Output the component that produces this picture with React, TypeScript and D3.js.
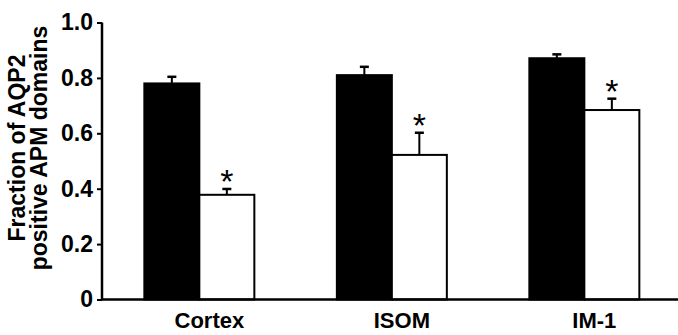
import React, { useEffect, useRef } from 'react';
import * as d3 from 'd3';

const categories = ['Cortex', 'ISOM', 'IM-1'];
const series = ['control', 'treated'];
const controlMeans = [0.78, 0.81, 0.871];
const controlErrors = [0.024, 0.03, 0.014];
const treatedMeans = [0.378, 0.522, 0.684];
const treatedErrors = [0.021, 0.08, 0.041];
const significant = [true, true, true];
const yTicks = [0, 0.2, 0.4, 0.6, 0.8, 1.0];
const yTickLabels = ['0', '0.2', '0.4', '0.6', '0.8', '1.0'];
const titleLines = ['Fraction of AQP2', 'positive APM domains'];

const FONT = '"Liberation Sans", Arial, sans-serif';

function App() {
  const ref = useRef<SVGSVGElement | null>(null);

  useEffect(() => {
    const width = 678;
    const height = 335;
    const svg = d3.select(ref.current);
    svg.selectAll('*').remove();

    const y = d3.scaleLinear().domain([0, 1]).range([299.5, 22.5]);
    const x = d3.scaleBand<string>()
      .domain(categories)
      .range([102, 681.7])
      .paddingInner(0.4286)
      .paddingOuter(0.22);
    const xs = d3.scaleBand<string>().domain(series).range([0, x.bandwidth()]);

    const rows = categories.map((c, i) => ({
      cat: c,
      bars: [
        { key: 'control', v: controlMeans[i], e: controlErrors[i], fill: '#000' },
        { key: 'treated', v: treatedMeans[i], e: treatedErrors[i], fill: '#fff' },
      ],
      sig: significant[i],
    }));

    const g = svg.append('g');

    // error bars (upwards only)
    rows.forEach(r => {
      r.bars.forEach(b => {
        const cx = (x(r.cat) as number) + (xs(b.key) as number) + xs.bandwidth() / 2;
        g.append('line')
          .attr('x1', cx).attr('x2', cx)
          .attr('y1', y(b.v)).attr('y2', y(b.v + b.e))
          .attr('stroke', '#000').attr('stroke-width', 2);
        g.append('line')
          .attr('x1', cx - 4.5).attr('x2', cx + 4.5)
          .attr('y1', y(b.v + b.e)).attr('y2', y(b.v + b.e))
          .attr('stroke', '#000').attr('stroke-width', 2.5);
      });
    });

    // bars
    rows.forEach(r => {
      g.selectAll(null)
        .data(r.bars)
        .enter().append('rect')
        .attr('x', d => (x(r.cat) as number) + (xs(d.key) as number))
        .attr('width', xs.bandwidth())
        .attr('y', d => y(d.v))
        .attr('height', d => y(0) - y(d.v))
        .attr('fill', d => d.fill)
        .attr('stroke', '#000')
        .attr('stroke-width', 2);

      if (r.sig) {
        const b = r.bars[1];
        const cx = (x(r.cat) as number) + (xs(b.key) as number) + xs.bandwidth() / 2;
        g.append('text')
          .attr('x', cx)
          .attr('y', y(b.v + b.e) + 4)
          .attr('text-anchor', 'middle')
          .attr('font-family', FONT)
          .attr('font-size', 34)
          .text('*');
      }
    });

    // y axis
    const yAxis = d3.axisLeft(y)
      .tickValues(yTicks)
      .tickFormat((_d, i) => yTickLabels[i])
      .tickSize(5)
      .tickPadding(4);
    const ya = svg.append('g').attr('transform', 'translate(102,0)').call(yAxis);
    ya.select('.domain').attr('stroke-width', 2.5).attr('d', `M0,${y(1)}V${y(0)}`);
    ya.selectAll('.tick line').attr('stroke-width', 2);
    ya.selectAll('.tick text')
      .attr('font-family', FONT)
      .attr('font-weight', 'bold')
      .attr('font-size', 23)
      .attr('fill', '#000');

    // x axis
    const xAxis = d3.axisBottom(x).tickSize(0).tickPadding(13);
    const xa = svg.append('g').attr('transform', `translate(0,${y(0)})`).call(xAxis);
    xa.select('.domain').attr('stroke-width', 2.5).attr('d', `M101,0H${width}`);
    xa.selectAll('.tick text')
      .attr('font-family', FONT)
      .attr('font-weight', 'bold')
      .attr('font-size', 22)
      .attr('dx', 10)
      .attr('fill', '#000');

    // y title
    const title = svg.append('text')
      .attr('transform', 'translate(0,148) rotate(-90)')
      .attr('text-anchor', 'middle')
      .attr('font-family', FONT)
      .attr('font-weight', 'bold')
      .attr('font-size', 23);
    titleLines.forEach((t, i) => {
      title.append('tspan').attr('x', 0).attr('y', 25 + i * 22).text(t);
    });

    svg.attr('width', width).attr('height', height);
  }, []);

  return (
    <svg
      ref={ref}
      width={678}
      height={335}
      style={{ position: 'absolute', left: 0, top: 0, background: '#fff' }}
    />
  );
}

export default App;
